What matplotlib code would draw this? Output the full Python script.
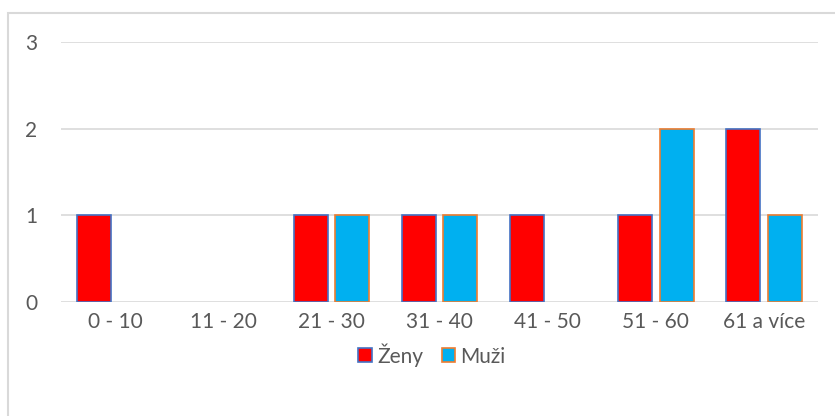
import matplotlib.pyplot as plt
import numpy as np
from matplotlib.patches import Rectangle

categories = ['0 - 10', '11 - 20', '21 - 30', '31 - 40', '41 - 50', '51 - 60', '61 a více']
zeny = [1, 0, 1, 1, 1, 1, 2]
muzi = [0, 0, 1, 1, 0, 2, 1]

plt.rcParams['font.family'] = ['Lato', 'DejaVu Sans']

fig = plt.figure(figsize=(8.35, 4.16), dpi=100)
ax = fig.add_axes([61 / 835, 1 - 302 / 416, (818 - 61) / 835, 260 / 416])

# outer chart border (light gray), right/bottom run off the image
fig.patches.append(Rectangle((8 / 835, -0.1), 1.2, 1 - 13 / 416 + 0.1,
                             transform=fig.transFigure, fill=False,
                             edgecolor='#d9d9d9', linewidth=1.5, zorder=0))

x = np.arange(len(categories))
w = 0.315
gap = 0.035
# zero values draw no bar at all (no outline on the axis)
z = np.where(np.array(zeny) > 0, zeny, np.nan)
m = np.where(np.array(muzi) > 0, muzi, np.nan)
ax.bar(x - w / 2 - gap, z, w, color='#ff0000', edgecolor='#4472c4',
       linewidth=1.2, label='Ženy', zorder=3)
ax.bar(x + w / 2 + gap, m, w, color='#00b0f0', edgecolor='#ed7d31',
       linewidth=1.2, label='Muži', zorder=3)

ax.set_xlim(-0.5, len(categories) - 0.5)
ax.set_ylim(0, 3)
ax.set_yticks([0, 1, 2, 3])
ax.set_xticks(x)
ax.set_xticklabels(categories)
ax.yaxis.grid(True, color='#d9d9d9', linewidth=1.2, zorder=0)
for s in ax.spines.values():
    s.set_visible(False)
ax.tick_params(length=0, labelsize=15, colors='#595959', pad=7)
ax.tick_params(axis='y', pad=17)

leg = fig.legend(loc='center', bbox_to_anchor=(432 / 835, 1 - 355 / 416), ncol=2,
                 frameon=False, fontsize=15, handlelength=0.65, handleheight=0.65,
                 handletextpad=0.25, columnspacing=0.9)
for t in leg.get_texts():
    t.set_color('#595959')

fig.savefig('out.png', dpi=100)
